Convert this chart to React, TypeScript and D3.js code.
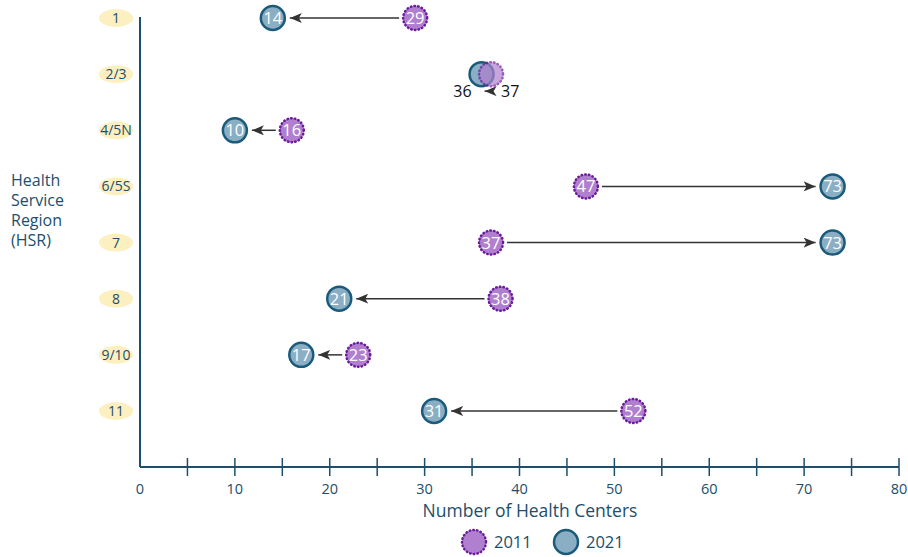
import React from 'react';
import * as d3 from 'd3';

const regions = ['1', '2/3', '4/5N', '6/5S', '7', '8', '9/10', '11'];
const centers2011 = [29, 37, 16, 47, 37, 38, 23, 52];
const centers2021 = [14, 36, 10, 73, 73, 21, 17, 31];
const xTicks = [0, 10, 20, 30, 40, 50, 60, 70, 80];
const xMinorTicks = [5, 15, 25, 35, 45, 55, 65, 75];

const W = 908;
const H = 557;
const AXIS = '#1d4e6b';
const FONT = '"Open Sans", sans-serif';
const R = 12;

export default function App() {
  const x = d3.scaleLinear().domain([0, 80]).range([140, 899]);
  const y = d3.scalePoint<string>().domain(regions).range([18, 411]);
  const axisY = 467;

  return (
    <svg width={W} height={H} style={{ position: 'absolute', left: 0, top: 0, background: '#fff' }} fontFamily={FONT}>
      <defs>
        <marker id="arr" viewBox="0 0 12 10" refX="12" refY="5" markerWidth="12" markerHeight="10" markerUnits="userSpaceOnUse" orient="auto">
          <path d="M0,0 L12,5 L0,10 L3,5 Z" fill="#333" />
        </marker>
      </defs>

      {/* y axis line */}
      <line x1={x(0)} x2={x(0)} y1={17} y2={axisY} stroke={AXIS} strokeWidth={2} />
      {/* x axis line */}
      <line x1={x(0)} x2={x(80)} y1={axisY} y2={axisY} stroke={AXIS} strokeWidth={2} />
      {[...xTicks.slice(1), ...xMinorTicks].map(t => (
        <line key={'t' + t} x1={x(t)} x2={x(t)} y1={axisY - 9} y2={axisY + 9} stroke={AXIS} strokeWidth={1.5} />
      ))}
      {xTicks.map(t => (
        <text key={'l' + t} x={x(t)} y={494} textAnchor="middle" fontSize={14.5} fill={AXIS}>{t}</text>
      ))}
      <text x={530} y={517} textAnchor="middle" fontSize={17.5} fill={AXIS}>Number of Health Centers</text>

      {/* y labels */}
      {regions.map(r => (
        <g key={r} transform={`translate(116,${y(r)})`}>
          <ellipse rx={17} ry={9} fill="#fcefc0" />
          <text y={5} textAnchor="middle" fontSize={14} fill={AXIS}>{r}</text>
        </g>
      ))}
      {['Health', 'Service', 'Region', '(HSR)'].map((s, i) => (
        <text key={s} x={11} y={186 + i * 20} fontSize={16} fill={AXIS}>{s}</text>
      ))}

      {/* dumbbells */}
      {regions.map((r, i) => {
        const a = centers2011[i];
        const b = centers2021[i];
        const cy = y(r)!;
        const xa = x(a);
        const xb = x(b);
        const dir = Math.sign(xb - xa);
        const close = Math.abs(xb - xa) < 2 * R + 10;
        const x1 = xa + dir * (R + 4);
        const x2 = xb - dir * (R + 5);
        return (
          <g key={r}>
            {close ? (
              <line x1={xa - 3} x2={xb + 3} y1={cy + 17} y2={cy + 17} stroke="#333" strokeWidth={1.5} markerEnd="url(#arr)" />
            ) : (
              <line x1={x1} x2={x2} y1={cy} y2={cy} stroke="#333" strokeWidth={1.5} markerEnd="url(#arr)" />
            )}
            <circle cx={xb} cy={cy} r={R} fill="#8aaec4" stroke="#1a5a7a" strokeWidth={2.5} />
            <circle cx={xa} cy={cy} r={R} fill="#b07fcf" stroke="#6a1b9a" strokeWidth={2.5}
              strokeDasharray="0.5 3.2" strokeLinecap="round" opacity={close ? 0.7 : 1} />
            {close ? (
              <>
                <text x={xb - 10} y={cy + 23} textAnchor="end" fontSize={16} fill="#111">{b}</text>
                <text x={xa + 10} y={cy + 23} textAnchor="start" fontSize={16} fill="#111">{a}</text>
              </>
            ) : (
              <>
                <text x={xb} y={cy + 6} textAnchor="middle" fontSize={16.5} fill="#fff">{b}</text>
                <text x={xa} y={cy + 6} textAnchor="middle" fontSize={16.5} fill="#fff">{a}</text>
              </>
            )}
          </g>
        );
      })}

      {/* legend */}
      <circle cx={474} cy={542} r={12} fill="#b07fcf" stroke="#6a1b9a" strokeWidth={2.5} strokeDasharray="0.5 3.2" strokeLinecap="round" />
      <text x={494} y={548} fontSize={16.5} fill={AXIS}>2011</text>
      <circle cx={566} cy={542} r={12} fill="#8aaec4" stroke="#1a5a7a" strokeWidth={2.5} />
      <text x={586} y={548} fontSize={16.5} fill={AXIS}>2021</text>
    </svg>
  );
}
